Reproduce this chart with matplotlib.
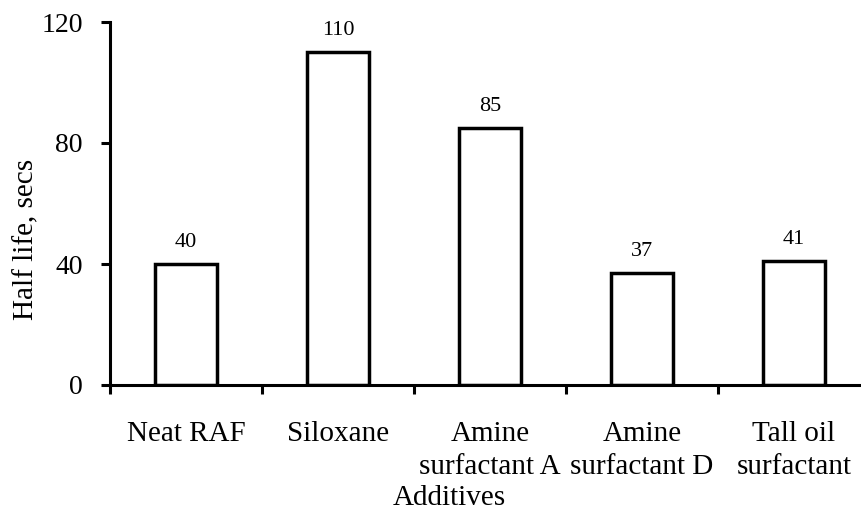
import matplotlib.pyplot as plt

additives = ['Neat RAF', 'Siloxane', 'Amine\nsurfactant A', 'Amine\nsurfactant D', 'Tall oil\nsurfactant']
half_life = [40, 110, 85, 37, 41]
yticks = [0, 40, 80, 120]

plt.rcParams['font.family'] = ['Liberation Serif', 'DejaVu Serif']

fig = plt.figure(figsize=(8.61, 5.16), dpi=100)
# axis runs past the right edge like the original
ax = fig.add_axes([110 / 861, 1 - 385 / 516, 760 / 861, 363 / 516])

x = list(range(len(additives)))
ax.bar(x, half_life, width=0.41, color='white', edgecolor='black', linewidth=2.5)
for xi, v in zip(x, half_life):
    ax.text(xi, v + 4, str(v), ha='center', va='bottom', fontsize=16)

ax.set_xlim(-0.5, len(additives) - 0.5)
ax.set_ylim(0, 120)
ax.set_yticks(yticks)
ax.tick_params(axis='y', labelsize=20, width=2.2, length=6.5, direction='out', pad=13)

ax.set_xticks([i - 0.5 for i in range(len(additives) + 1)])
ax.set_xticklabels([])
ax.set_xticks(x, minor=True)
ax.set_xticklabels(additives, minor=True, fontsize=21, linespacing=1.35)
ax.tick_params(axis='x', which='major', width=2.2, length=6.5, direction='out')
ax.tick_params(axis='x', which='minor', length=0, pad=26)

for s in ['top', 'right']:
    ax.spines[s].set_visible(False)
for s in ['left', 'bottom']:
    ax.spines[s].set_linewidth(2.2)

ax.set_ylabel('Half life, secs', fontsize=21)
ax.yaxis.set_label_coords(-0.093, 0.40)
ax.set_xlabel('Additives', fontsize=21)
ax.xaxis.set_label_coords(0.447, -0.275)

fig.savefig('out.png', dpi=100)
